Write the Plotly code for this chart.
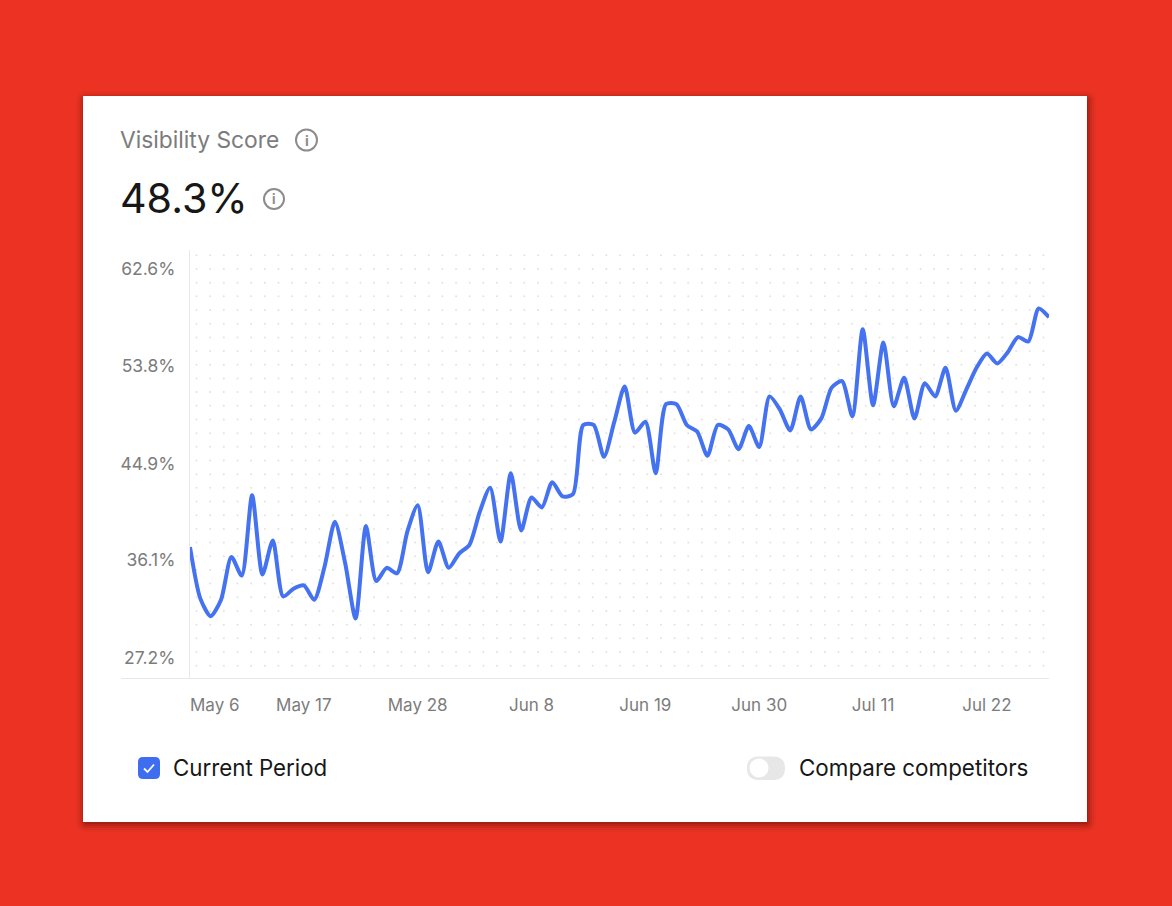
import numpy as np
import pandas as pd
import plotly.graph_objects as go

# daily score
score = [37.3, 32.6, 31.0, 32.5, 36.4, 34.7, 42.0, 34.8, 37.9, 32.8, 33.5, 33.8,
         32.5, 35.5, 39.6, 35.8, 30.8, 39.2, 34.2, 35.4, 34.9, 38.7, 41.1, 35.0,
         37.8, 35.4, 36.7, 37.5, 40.5, 42.7, 37.8, 44.0, 38.8, 41.8, 40.9, 43.2,
         41.9, 42.1, 48.4, 48.4, 45.5, 48.7, 51.9, 47.7, 48.7, 44.0, 50.3, 50.3,
         48.4, 47.8, 45.6, 48.4, 48.0, 46.2, 48.3, 46.4, 51.0, 49.8, 47.9, 51.0,
         48.0, 49.0, 51.8, 52.4, 49.2, 57.1, 50.2, 55.9, 50.1, 52.7, 49.0, 52.2,
         51.0, 53.6, 49.7, 51.6, 53.6, 54.9, 54.0, 55.0, 56.4, 56.0, 59.0, 58.2]
days = pd.date_range("2025-05-06", periods=len(score))

y_ticks = [27.2, 36.1, 44.9, 53.8, 62.6]
y_labels = ["27.2%", "36.1%", "44.9%", "53.8%", "62.6%"]
x_ticks = ["2025-05-17", "2025-05-28", "2025-06-08", "2025-06-19",
           "2025-06-30", "2025-07-11", "2025-07-22"]
x_labels = ["May 17", "May 28", "Jun 8", "Jun 19", "Jun 30", "Jul 11", "Jul 22"]

W, H = 1172, 906
FONT = "Inter"
RED = "#EC3323"
BLUE = "#4472F0"
GREY = "#7C7C7C"
INK = "#171717"
RULE = "#E8E8E8"


def rounded(x0, y0, x1, y1, r):
    return (f"M{x0+r},{y0} L{x1-r},{y0} Q{x1},{y0} {x1},{y0+r} L{x1},{y1-r} Q{x1},{y1} {x1-r},{y1} "
            f"L{x0+r},{y1} Q{x0},{y1} {x0},{y1-r} L{x0},{y0+r} Q{x0},{y0} {x0+r},{y0} Z")


fig = go.Figure()

# background dot grid, on the page-pixel axes
dot_x, dot_y = np.meshgrid(196.5 + 13.66 * np.arange(63), 255.3 + 13.68 * np.arange(31))
fig.add_trace(go.Scatter(x=dot_x.ravel(), y=dot_y.ravel(), mode="markers",
                         marker=dict(size=2, color="#E2E2E2"), hoverinfo="skip", xaxis="x", yaxis="y"))

fig.add_trace(go.Scatter(x=days, y=score, mode="lines", name="Current Period",
                         line=dict(color=BLUE, width=4, shape="spline", smoothing=0.7),
                         xaxis="x2", yaxis="y2"))

shapes = []
# card shadow, then card
for grow, alpha in [(9, 0.04), (7, 0.06), (5, 0.08), (3, 0.12), (1, 0.16)]:
    shapes.append(dict(type="path", path=rounded(85 - grow, 100 - grow, 1087 + grow, 823 + grow, 2 + grow),
                       fillcolor=f"rgba(60,0,0,{alpha})", line_width=0, xref="x", yref="y", layer="below"))
shapes.append(dict(type="rect", x0=83, x1=1087, y0=96, y1=822, fillcolor="white", line_width=0,
                   xref="x", yref="y", layer="below"))
# baseline runs further left than the plot
shapes.append(dict(type="line", x0=121, x1=1049, y0=678.5, y1=678.5, line=dict(color=RULE, width=1.2),
                   xref="x", yref="y", layer="below"))
# info icons
for cx, cy, r in [(306.5, 140, 10.5), (274, 199, 10)]:
    shapes.append(dict(type="circle", x0=cx - r, x1=cx + r, y0=cy - r, y1=cy + r,
                       line=dict(color="#8C8C8C", width=2), xref="x", yref="y", layer="below"))
# checkbox
shapes.append(dict(type="path", path=rounded(138, 757, 160, 779, 5), fillcolor="#3F6DF0", line_width=0,
                   xref="x", yref="y", layer="below"))
shapes.append(dict(type="path", path="M144,768.5 L147.5,772 L154,764.5", line=dict(color="white", width=1.8),
                   xref="x", yref="y", layer="below"))
# toggle
shapes.append(dict(type="path", path=rounded(747, 756.5, 785, 780, 11.7), fillcolor="#E7E7E7", line_width=0,
                   xref="x", yref="y", layer="below"))
shapes.append(dict(type="circle", x0=749.5, x1=768.5, y0=758.5, y1=777.5, fillcolor="white", line_width=0,
                   xref="x", yref="y", layer="below"))


def label(x, y, text, size, color, anchor="left"):
    return dict(x=x, y=y, xref="x", yref="y", text=text, showarrow=False, xanchor=anchor, yanchor="middle",
                font=dict(family=FONT, size=size, color=color))


annotations = [
    label(118, 139.5, "Visibility Score", 22.8, GREY),
    label(118, 198, "48.3%", 41.2, INK),
    label(306.5, 140, "<b>i</b>", 14, "#8C8C8C", "center"),
    label(274, 199, "<b>i</b>", 13, "#8C8C8C", "center"),
    label(188, 705, "May 6", 17, GREY),  # first tick sits flush with the axis
    label(171, 767, "Current Period", 22.3, INK),
    label(796.5, 767, "Compare competitors", 22.4, INK),
]

fig.update_layout(
    width=W, height=H,
    margin=dict(l=0, r=0, t=0, b=0),
    paper_bgcolor=RED,
    plot_bgcolor="rgba(0,0,0,0)",
    showlegend=False,
    shapes=shapes,
    annotations=annotations,
    xaxis=dict(domain=[0, 1], range=[0, W], visible=False, fixedrange=True),
    yaxis=dict(domain=[0, 1], range=[H, 0], visible=False, fixedrange=True),
    xaxis2=dict(domain=[190 / W, 1049 / W], range=["2025-05-06", "2025-07-28"], type="date", anchor="y2",
                tickmode="array", tickvals=x_ticks, ticktext=x_labels, showgrid=False, zeroline=False,
                showline=False, ticks="", ticklabelstandoff=15,
                tickfont=dict(family=FONT, size=17, color=GREY), fixedrange=True),
    yaxis2=dict(domain=[1 - 678 / H, 1 - 250 / H], range=[25.38, 64.32], anchor="x2",
                tickmode="array", tickvals=y_ticks, ticktext=y_labels, showgrid=False, zeroline=False,
                showline=True, linecolor=RULE, linewidth=1.2, ticks="", ticklabelstandoff=10,
                tickfont=dict(family=FONT, size=17.5, color=GREY), fixedrange=True),
)

fig.write_html("out.html", config=dict(displayModeBar=False),
               post_script=f"document.body.style.margin='0';document.body.style.background='{RED}';"
                           "document.body.style.overflow='hidden';")
